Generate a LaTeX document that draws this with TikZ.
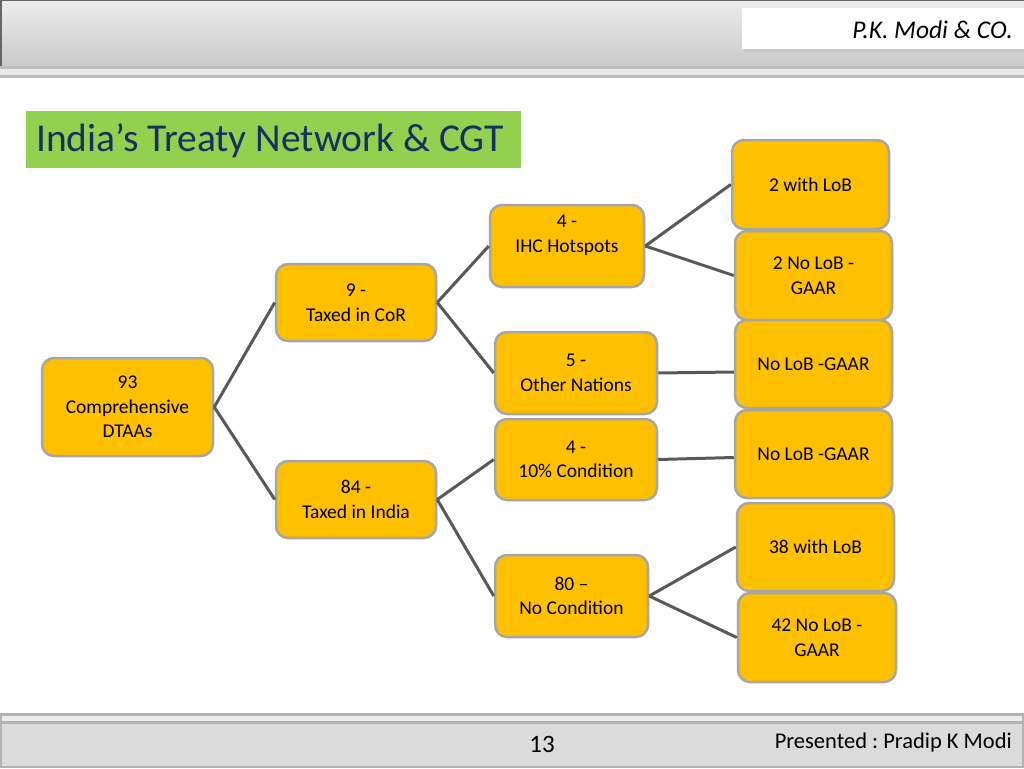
\documentclass[tikz,border=0pt]{standalone}
\usepackage{fontspec}
\setmainfont{Carlito}
\frenchspacing
\begin{document}
\begin{tikzpicture}[x=1pt,y=-1pt,
  box/.style={draw=boxline,line width=2.5pt,fill=boxfill,rounded corners=12pt,
    align=center,inner sep=0pt,font=\fontsize{19.5}{24.5}\selectfont},
  link/.style={draw=linkc,line width=3pt}]
\definecolor{boxfill}{HTML}{FFC000}
\definecolor{boxline}{HTML}{A6A6A6}
\definecolor{linkc}{HTML}{595959}
\definecolor{titlegreen}{HTML}{92D050}
\definecolor{titleblue}{HTML}{17305E}
\useasboundingbox (0,0) rectangle (1024,768);
\fill[white] (0,0) rectangle (1024,768);
% header
\shade[top color=gray!15,bottom color=gray!42] (0,0) rectangle (1024,67);
\draw[gray!80!black,line width=1.5pt] (1024,0.75) -- (0.75,0.75) -- (0.75,67);
\fill[gray!50] (0,66) rectangle (1024,69);
\fill[gray!18] (0,69) rectangle (1024,75);
\fill[gray!55] (0,75) rectangle (1024,78);
\fill[gray!45] (744,11) rectangle (1026,52);
\node[fill=white,minimum width=282pt,minimum height=41pt,inner sep=0pt,anchor=north west] (hdr) at (742,8) {};
\node[anchor=east,inner sep=0pt,font=\fontsize{25.5}{30}\selectfont\itshape] (hdrtxt) at (1013,30) {P.K. Modi \& CO.};
% footer
\fill[gray!60] (0,713) rectangle (1024,716);
\fill[gray!15] (0,716) rectangle (1024,721);
\fill[gray!60] (0,721) rectangle (1024,724);
\fill[gray!28] (0,724) rectangle (1024,766);
\fill[gray!60] (0,766) rectangle (1024,768);
\fill[gray!60] (0,713) rectangle (2,768);
\fill[gray!60] (1022,713) rectangle (1024,768);
\node[font=\fontsize{25}{30}\selectfont] (pg) at (542,744) {13};
\node[anchor=east,inner sep=0pt,font=\fontsize{22.5}{27}\selectfont] (pres) at (1012,742) {Presented : Pradip K Modi};
% title
\node[fill=titlegreen,minimum width=495pt,minimum height=57pt,anchor=north west,inner sep=0pt] (tbox) at (26,111) {};
\node[anchor=west,inner sep=0pt,text=titleblue,font=\fontsize{39.5}{46}\selectfont] (title) at (36,141) {India’s Treaty Network \& CGT};
% boxes
\node[box,minimum width=171pt,minimum height=98pt] (root) at (127.5,407) {93\\Comprehensive\\DTAAs};
\node[box,minimum width=160pt,minimum height=77pt] (cor) at (356,302.5) {9 -\\Taxed in CoR};
\node[box,minimum width=160pt,minimum height=77pt] (ind) at (356,499.5) {84 -\\Taxed in India};
\node[box,minimum width=154pt,minimum height=82pt] (ihc) at (567,246) {4 -\\IHC Hotspots\\\mbox{}};
\node[box,minimum width=162pt,minimum height=82pt] (oth) at (576,373) {5 -\\Other Nations};
\node[box,minimum width=162pt,minimum height=81pt] (ten) at (576,459.5) {4 -\\10\% Condition};
\node[box,minimum width=153pt,minimum height=82pt] (noc) at (571.5,596) {80 –\\No Condition};
\node[box,minimum width=157pt,minimum height=89pt] (r1) at (810.5,184.5) {2 with LoB};
\node[box,minimum width=157pt,minimum height=89pt] (r2) at (813.5,275.5) {2 No LoB -\\GAAR};
\node[box,minimum width=157pt,minimum height=88pt] (r3) at (813.5,364) {No LoB -GAAR};
\node[box,minimum width=157pt,minimum height=88pt] (r4) at (813.5,454) {No LoB -GAAR};
\node[box,minimum width=157pt,minimum height=88pt] (r5) at (815.5,547) {38 with LoB};
\node[box,minimum width=158pt,minimum height=89pt] (r6) at (817,637.5) {42 No LoB -\\GAAR};
% connectors
\draw[link] (root.east) -- (cor.west);
\draw[link] (root.east) -- (ind.west);
\draw[link] (cor.east) -- (ihc.west);
\draw[link] (cor.east) -- (oth.west);
\draw[link] (ind.east) -- (ten.west);
\draw[link] (ind.east) -- (noc.west);
\draw[link] (ihc.east) -- (r1.west);
\draw[link] (ihc.east) -- (r2.west);
\draw[link] (oth.east) -- ([yshift=1pt]oth.east -| r3.west);
\draw[link] (ten.east) -- ([yshift=2pt]ten.east -| r4.west);
\draw[link] (noc.east) -- (r5.west);
\draw[link] (noc.east) -- (r6.west);
\end{tikzpicture}
\end{document}
